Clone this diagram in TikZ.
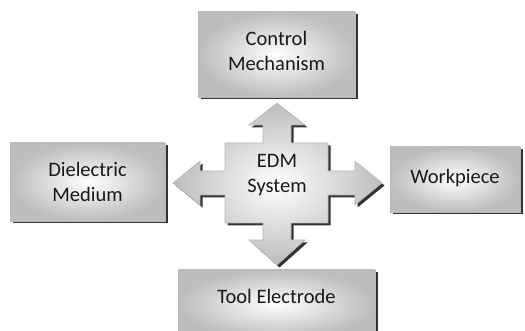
\documentclass[tikz,border=0pt]{standalone}
\usepackage{fontspec}
\setmainfont{Carlito}
\usetikzlibrary{shadows}

\tikzset{
  metal/.style={inner color=white, outer color=gray!52,
    draw=gray!55, line width=0.6pt,
    drop shadow={shadow xshift=2.5pt, shadow yshift=-2.5pt, fill=black!80, opacity=1}},
  panel/.style={metal, rectangle, inner sep=0pt},
  caption/.style={text=black!90, align=center, font=\fontsize{20.5}{25}\selectfont}
}

\begin{document}
\begin{tikzpicture}[x=1pt, y=-1pt]
  \useasboundingbox (0,0) rectangle (525,331);

  % outer boxes
  \node[panel, minimum width=157pt, minimum height=85pt] (ctrl) at (276.5,54.5) {};
  \node[caption] (ctrltext) at (276.5,51) {Control\\Mechanism};

  \node[panel, minimum width=155pt, minimum height=78pt] (diel) at (87.5,182) {};
  \node[caption] (dieltext) at (87.5,182) {Dielectric\\Medium};

  \node[panel, minimum width=130pt, minimum height=65pt] (work) at (455,179.5) {};
  \node[caption] (worktext) at (455,178) {Workpiece};

  \node[panel, minimum width=197pt, minimum height=68pt] (tool) at (276.5,304) {};
  \node[caption] (tooltext) at (276.5,296) {Tool Electrode};

  % central block with four arrows
  \path[metal]
    (225,143) -- (263,143) -- (263,125) -- (249,125) -- (277,103)
    -- (305,125) -- (291,125) -- (291,143) -- (328,143) -- (328,171)
    -- (355,171) -- (355,161) -- (382,183) -- (355,205) -- (355,195)
    -- (328,195) -- (328,223) -- (291,223) -- (291,240) -- (305,240)
    -- (277,265) -- (249,240) -- (263,240) -- (263,223) -- (225,223)
    -- (225,195) -- (200,195) -- (200,205) -- (173,183) -- (200,161)
    -- (200,171) -- (225,171) -- cycle;
  \node[caption] (edm) at (277,175) {EDM\\System};
\end{tikzpicture}
\end{document}
